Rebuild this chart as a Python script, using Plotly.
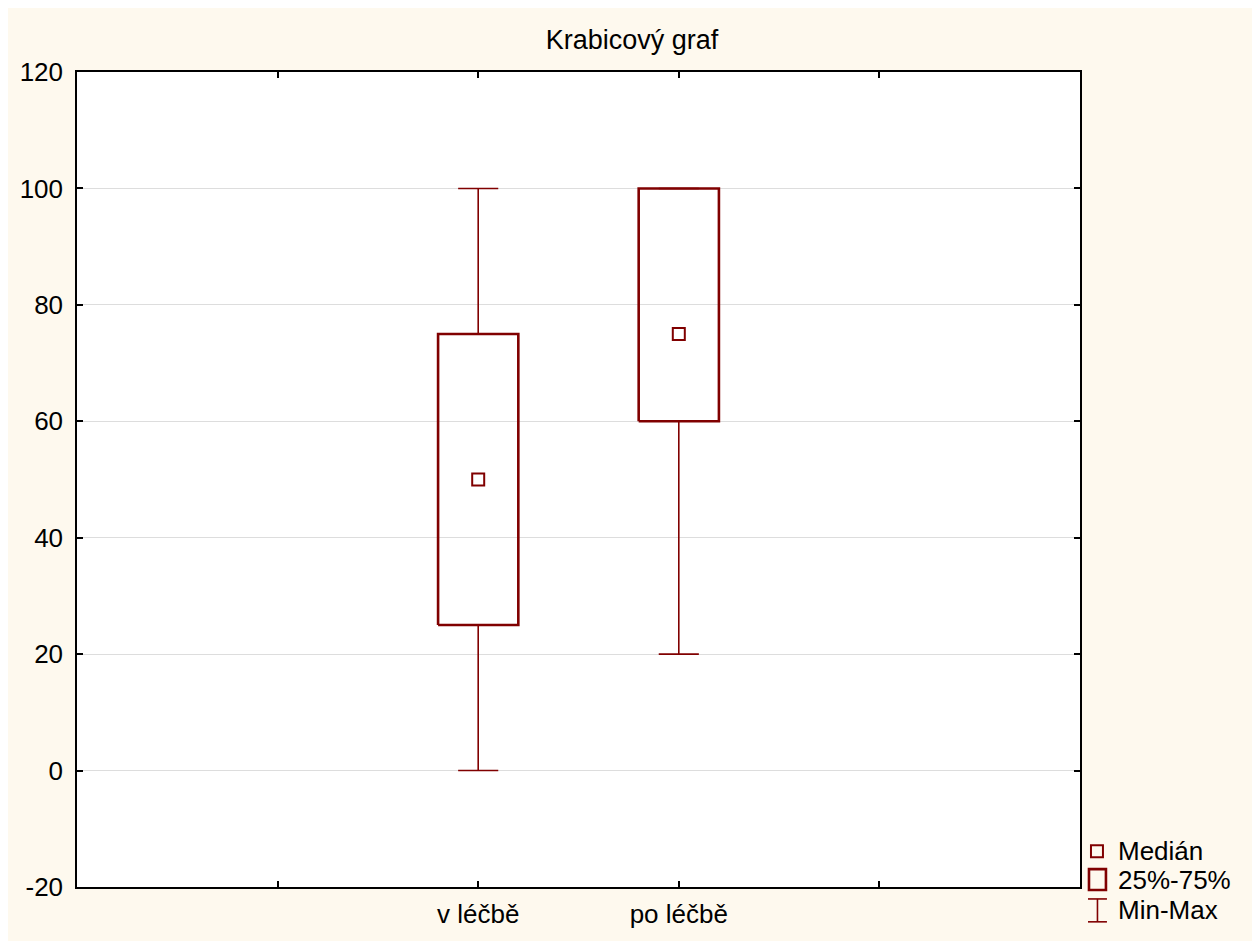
import plotly.graph_objects as go

# ---- data ----
categories = ["v léčbě", "po léčbě"]
cat_positions = [2, 3]          # slot index on the 5-slot x axis
minimum = [0, 20]
q1 = [25, 60]
median = [50, 75]
q3 = [75, 100]
maximum = [100, 100]

x_tickvals = [1, 2, 3, 4]
x_ticktext = ["", "v léčbě", "po léčbě", ""]
y_tickvals = [-20, 0, 20, 40, 60, 80, 100, 120]
y_ticktext = ["-20", "0", "20", "40", "60", "80", "100", "120"]

legend_labels = ["Medián", "25%-75%", "Min-Max"]

# ---- style ----
RED = "#800000"
CREAM = "#FEF9EE"
FONT = "Arial, Liberation Sans, sans-serif"
OFF = 8                      # page body margin
W, H = 1247, 933
ML, MT = 75 - OFF, 72 - OFF
MR = (OFF + W) - 1080
MB = (OFF + H) - 891
BOX_HALF = 0.2
CAP_HALF = 0.1

# whiskers
wx, wy = [], []
for c, lo, a, b, hi in zip(cat_positions, minimum, q1, q3, maximum):
    wx += [c, c, None, c, c, None, c - CAP_HALF, c + CAP_HALF, None, c - CAP_HALF, c + CAP_HALF, None]
    wy += [b, hi, None, a, lo, None, hi, hi, None, lo, lo, None]

# boxes
bx, by = [], []
for c, a, b in zip(cat_positions, q1, q3):
    bx += [c - BOX_HALF, c + BOX_HALF, c + BOX_HALF, c - BOX_HALF, c - BOX_HALF, None]
    by += [a, a, b, b, a, None]

fig = go.Figure()
fig.add_trace(go.Scatter(x=wx, y=wy, mode="lines", line=dict(color=RED, width=1.6),
                         showlegend=False, hoverinfo="skip"))
fig.add_trace(go.Scatter(x=bx, y=by, mode="lines", line=dict(color=RED, width=2.6),
                         showlegend=False, hoverinfo="skip"))
fig.add_trace(go.Scatter(x=cat_positions, y=median, mode="markers",
                         marker=dict(symbol="square-open", size=12, color=RED, line=dict(width=2, color=RED)),
                         showlegend=False, text=categories))

pw = W - ML - MR
ph = H - MT - MB
PLOT_BOTTOM = OFF + H - MB


def px(xpage):
    return (xpage - OFF - ML) / pw


def py(ypage):
    return (PLOT_BOTTOM - ypage) / ph


shapes = [
    dict(type="rect", xref="paper", yref="paper", x0=px(1091), x1=px(1103), y0=py(861), y1=py(849),
         line=dict(color=RED, width=2), fillcolor="rgba(0,0,0,0)"),
    dict(type="rect", xref="paper", yref="paper", x0=px(1089), x1=px(1106), y0=py(894), y1=py(873),
         line=dict(color=RED, width=2.6), fillcolor="rgba(0,0,0,0)"),
    dict(type="line", xref="paper", yref="paper", x0=px(1097.5), x1=px(1097.5), y0=py(926), y1=py(903),
         line=dict(color=RED, width=1.6)),
    dict(type="line", xref="paper", yref="paper", x0=px(1088), x1=px(1107), y0=py(903), y1=py(903),
         line=dict(color=RED, width=1.6)),
    dict(type="line", xref="paper", yref="paper", x0=px(1088), x1=px(1107), y0=py(926), y1=py(926),
         line=dict(color=RED, width=1.6)),
]

annotations = []
for label, yc in zip(legend_labels, [855, 884, 914]):
    annotations.append(dict(text=label, xref="paper", yref="paper", x=px(1116), y=py(yc),
                            xanchor="left", yanchor="middle", showarrow=False,
                            font=dict(family=FONT, size=26, color="black")))

fig.update_layout(
    width=W, height=H,
    margin=dict(l=ML, r=MR, t=MT, b=MB, pad=0),
    paper_bgcolor=CREAM,
    plot_bgcolor="white",
    font=dict(family=FONT, size=26, color="black"),
    title=dict(text="Krabicový graf", x=(632 - OFF) / W, xref="container", xanchor="center",
               y=1 - (40 - OFF) / H, yref="container", yanchor="middle",
               font=dict(family=FONT, size=27, color="black")),
    shapes=shapes,
    annotations=annotations,
    showlegend=False,
)
fig.update_xaxes(range=[0, 5], tickmode="array", tickvals=x_tickvals, ticktext=x_ticktext,
                 showgrid=False, zeroline=False, showline=True, linecolor="black", linewidth=1.5,
                 mirror="ticks", ticks="inside", ticklen=6, tickwidth=1.5, tickcolor="black",
                 ticklabelstandoff=3)
fig.update_yaxes(range=[-20, 120], tickmode="array", tickvals=y_tickvals, ticktext=y_ticktext,
                 showgrid=True, gridcolor="#DDDDDD", gridwidth=1, zeroline=False,
                 showline=True, linecolor="black", linewidth=1.5,
                 mirror="ticks", ticks="inside", ticklen=6, tickwidth=1.5, tickcolor="black",
                 ticklabelstandoff=7)

fig.write_html("out.html")
